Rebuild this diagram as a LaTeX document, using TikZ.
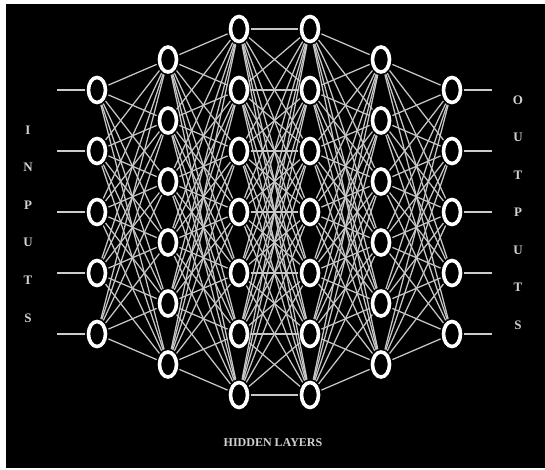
\documentclass[tikz,border=0pt]{standalone}
\usepackage{fontspec}
\setmainfont{Liberation Serif}
\usetikzlibrary{shapes.geometric}

\tikzset{
  neuron/.style={ellipse, draw=white, line width=3.6pt, minimum width=17pt, minimum height=25pt, inner sep=0pt},
  wire/.style={draw=white!78!black, line width=1.25pt, shorten >=1.7pt, shorten <=1.7pt},
  lead/.style={draw=white!80!black, line width=2pt, shorten >=1.7pt},
  letter/.style={text=white!82!black, font=\bfseries\fontsize{13}{15}\selectfont, inner sep=0pt},
}

\begin{document}
\begin{tikzpicture}[x=1pt, y=-1pt]
  \fill[white] (0,0) rectangle (545,470);
  \fill[black] (6,4) rectangle (545,468);
  % neurons, one column per layer
  \foreach \l/\n in {1/5,2/6,3/7,4/7,5/6,6/5}
    \foreach \k in {1,...,\n}
      \node[neuron] (n\l-\k) at ({97+(\l-1)*71}, {212+(\k-(\n+1)/2)*61}) {};
  % every neuron to every neuron of the next layer
  \foreach \a/\na/\b/\nb in {1/5/2/6, 2/6/3/7, 3/7/4/7, 4/7/5/6, 5/6/6/5}
    \foreach \i in {1,...,\na}
      \foreach \j in {1,...,\nb}
        \draw[wire] (n\a-\i) -- (n\b-\j);
  % inputs and outputs
  \foreach \k in {1,...,5} {
    \coordinate (in\k) at (57, {212+(\k-3)*61});
    \coordinate (out\k) at (492, {212+(\k-3)*61});
    \draw[lead] (in\k) -- (n1-\k);
    \draw[lead] (out\k) -- (n6-\k);
  }
  \foreach \c [count=\k] in {I,N,P,U,T,S}
    \node[letter] (inl\k) at (28, {130+(\k-1)*37.6}) {\c};
  \foreach \c [count=\k] in {O,U,T,P,U,T,S}
    \node[letter] (outl\k) at (518, {100+(\k-1)*37.5}) {\c};
  \node[letter, font=\bfseries\fontsize{12}{14}\selectfont] (hidden) at (273, 443) {HIDDEN LAYERS};
\end{tikzpicture}
\end{document}
